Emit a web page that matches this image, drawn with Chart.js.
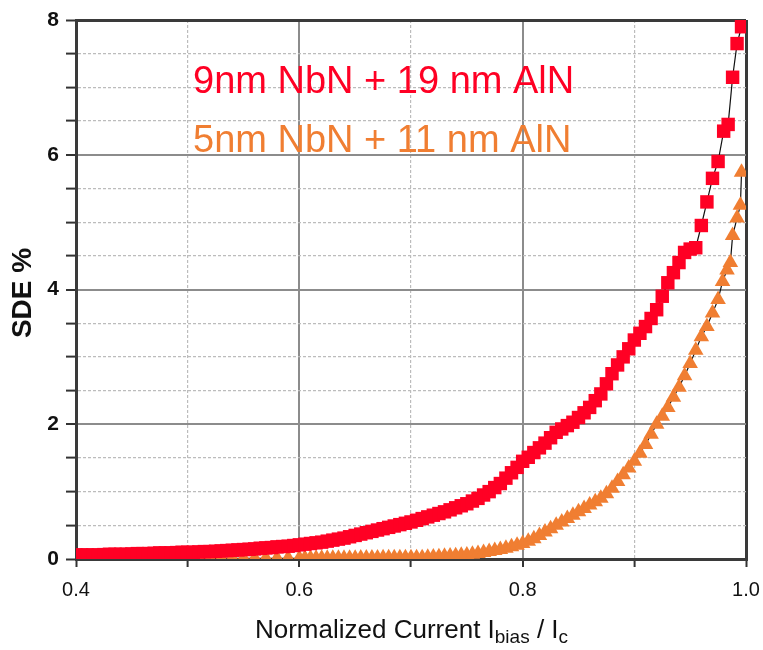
<!DOCTYPE html>
<html>
<head>
<meta charset="utf-8">
<script src="https://cdn.jsdelivr.net/npm/chart.js@4.4.1/dist/chart.umd.min.js"></script>
<style>
  html, body { margin: 0; padding: 0; background: #ffffff; }
  #wrap { position: relative; width: 763px; height: 650px; }
</style>
</head>
<body>
<div id="wrap"><canvas id="c" width="763" height="650"></canvas></div>
<script>
// ---- data ----
const xRed = [0.400,0.405,0.410,0.415,0.420,0.425,0.430,0.435,0.440,0.445,0.450,0.455,0.460,0.465,0.470,0.475,0.480,0.485,0.490,0.495,
  0.500,0.505,0.510,0.515,0.520,0.525,0.530,0.535,0.540,0.545,0.550,0.555,0.560,0.565,0.570,0.575,0.580,0.585,0.590,0.595,
  0.600,0.605,0.610,0.615,0.620,0.625,0.630,0.635,0.640,0.645,0.650,0.655,0.660,0.665,0.670,0.675,0.680,0.685,0.690,0.695,
  0.700,0.705,0.710,0.715,0.720,0.725,0.730,0.735,0.740,0.745,0.750,0.755,0.760,0.765,0.770,0.775,0.780,0.785,0.790,0.795,
  0.800,0.805,0.810,0.815,0.820,0.825,0.830,0.835,0.840,0.845,0.850,0.855,0.860,0.865,0.870,0.875,0.880,0.885,0.890,0.895,
  0.900,0.905,0.910,0.915,0.920,0.925,0.930,0.935,0.940,0.945,0.950,0.955,0.960,0.965,0.970,0.975,0.980,0.984,0.988,0.992,0.996];
const yRed = [0.06,0.06,0.06,0.06,0.06,0.065,0.07,0.07,0.07,0.07,0.075,0.08,0.08,0.08,0.085,0.09,0.09,0.09,0.095,0.10,
  0.10,0.10,0.105,0.11,0.11,0.115,0.12,0.125,0.13,0.135,0.14,0.145,0.15,0.16,0.165,0.17,0.18,0.185,0.19,0.20,
  0.21,0.22,0.23,0.24,0.25,0.265,0.28,0.295,0.31,0.33,0.35,0.37,0.39,0.41,0.43,0.45,0.47,0.49,0.51,0.53,
  0.55,0.575,0.60,0.625,0.65,0.675,0.70,0.73,0.76,0.79,0.82,0.86,0.90,0.95,1.00,1.06,1.12,1.20,1.28,1.36,
  1.45,1.51,1.58,1.65,1.72,1.80,1.88,1.93,1.98,2.03,2.10,2.17,2.25,2.35,2.45,2.60,2.75,2.88,3.00,3.12,
  3.25,3.35,3.45,3.57,3.70,3.90,4.10,4.25,4.40,4.55,4.60,4.62,4.95,5.30,5.65,5.90,6.35,6.45,7.15,7.65,7.90];
const xOrange = [0.400,0.410,0.420,0.430,0.440,0.450,0.460,0.470,0.480,0.490,0.500,0.510,0.520,0.530,0.540,0.550,0.560,0.570,0.580,0.590,
  0.600,0.605,0.610,0.615,0.620,0.625,0.630,0.635,0.640,0.645,0.650,0.655,0.660,0.665,0.670,0.675,0.680,0.685,0.690,0.695,
  0.700,0.705,0.710,0.715,0.720,0.725,0.730,0.735,0.740,0.745,0.750,0.755,0.760,0.765,0.770,0.775,0.780,0.785,0.790,0.795,
  0.800,0.805,0.810,0.815,0.820,0.825,0.830,0.835,0.840,0.845,0.850,0.855,0.860,0.865,0.870,0.875,0.880,0.885,0.890,0.895,
  0.900,0.905,0.910,0.915,0.920,0.925,0.930,0.935,0.940,0.945,0.950,0.955,0.960,0.965,0.970,0.975,0.979,0.983,0.986,0.988,
  0.992,0.995,0.996];
const yOrange = [0.01,0.01,0.01,0.01,0.01,0.01,0.01,0.01,0.01,0.01,0.01,0.01,0.01,0.01,0.01,0.01,0.01,0.01,0.01,0.01,
  0.01,0.01,0.01,0.01,0.01,0.01,0.01,0.01,0.01,0.012,0.012,0.014,0.014,0.015,0.016,0.017,0.018,0.019,0.02,0.02,
  0.02,0.02,0.02,0.025,0.03,0.035,0.04,0.045,0.05,0.055,0.06,0.07,0.08,0.095,0.11,0.125,0.14,0.16,0.18,0.205,
  0.23,0.265,0.30,0.35,0.40,0.45,0.50,0.55,0.60,0.65,0.70,0.75,0.80,0.85,0.90,0.97,1.05,1.15,1.25,1.35,
  1.45,1.57,1.70,1.85,2.00,2.12,2.25,2.40,2.55,2.72,2.90,3.10,3.30,3.45,3.65,3.85,4.12,4.29,4.40,4.80,
  5.06,5.25,5.74];
const seriesNames = ['9nm NbN + 19 nm AlN', '5nm NbN + 11 nm AlN'];
const xTickLabels = ['0.4', '0.6', '0.8', '1.0'];
const yTickLabels = ['0', '2', '4', '6', '8'];
const yTitle = 'SDE %';

// ---- styles ----
const RED = '#ff0024';
const ORANGE = '#f07e32';
const FONT = "'Liberation Sans', Arial, Helvetica, sans-serif";
const near = (a, b) => Math.abs(a - b) < 1e-6;

const toPts = (xs, ys) => xs.map((x, i) => ({ x: x, y: ys[i] }));

const textPlugin = {
  id: 'texts',
  afterDraw(chart) {
    const ctx = chart.ctx;
    ctx.save();
    ctx.textBaseline = 'alphabetic';
    ctx.textAlign = 'left';
    ctx.font = '38px ' + FONT;
    ctx.fillStyle = RED;
    ctx.fillText(seriesNames[0], 193, 93);
    ctx.fillStyle = ORANGE;
    ctx.fillText(seriesNames[1], 193, 152);

    // x axis title with subscripts
    const parts = [
      { t: 'Normalized Current I', f: '26px ' + FONT, dy: 0 },
      { t: 'bias', f: '19px ' + FONT, dy: 5 },
      { t: ' / I', f: '26px ' + FONT, dy: 0 },
      { t: 'c', f: '19px ' + FONT, dy: 5 }
    ];
    let total = 0;
    parts.forEach(p => { ctx.font = p.f; p.w = ctx.measureText(p.t).width; total += p.w; });
    let x = 411.5 - total / 2;
    ctx.fillStyle = '#111111';
    parts.forEach(p => { ctx.font = p.f; ctx.fillText(p.t, x, 638 + p.dy); x += p.w; });

    // y axis title
    ctx.save();
    ctx.translate(23, 293);
    ctx.rotate(-Math.PI / 2);
    ctx.textAlign = 'center';
    ctx.textBaseline = 'middle';
    ctx.font = 'bold 28px ' + FONT;
    ctx.fillText(yTitle, 0, 0);
    ctx.restore();
    ctx.restore();
  }
};

new Chart(document.getElementById('c'), {
  type: 'line',
  data: {
    datasets: [
      {
        label: seriesNames[0],
        data: toPts(xRed, yRed),
        borderColor: '#111111',
        borderWidth: 1.2,
        pointStyle: 'rect',
        pointRadius: 9.5,
        pointHoverRadius: 9.5,
        pointBackgroundColor: RED,
        pointBorderColor: RED,
        pointBorderWidth: 0,
        tension: 0,
        clip: 0
      },
      {
        label: seriesNames[1],
        data: toPts(xOrange, yOrange),
        borderColor: '#111111',
        borderWidth: 1.2,
        pointStyle: 'triangle',
        pointRadius: 9,
        pointHoverRadius: 9,
        pointBackgroundColor: ORANGE,
        pointBorderColor: ORANGE,
        pointBorderWidth: 0,
        tension: 0,
        clip: 0
      }
    ]
  },
  options: {
    responsive: false,
    animation: false,
    layout: { padding: { top: 20, right: 17, left: 0, bottom: 0 } },
    plugins: { legend: { display: false }, tooltip: { enabled: false } },
    scales: {
      x: {
        type: 'linear',
        min: 0.4,
        max: 1.0,
        afterFit(s) { s.height = 91; s.paddingLeft = 0; s.paddingRight = 0; },
        ticks: {
          stepSize: 0.1,
          autoSkip: false,
          maxRotation: 0,
          padding: 11,
          color: '#111111',
          font: { family: FONT, size: 20 },
          callback(v) {
            const s = Number(v).toFixed(1);
            return xTickLabels.includes(s) ? s : '';
          }
        },
        grid: {
          drawTicks: true,
          tickLength: 8,
          tickColor: '#333333',
          tickWidth: 2,
          color(c) {
            const v = c.tick ? c.tick.value : 0;
            if (near(v, 0.4) || near(v, 1.0)) return '#3a3a3a';
            if (near(v, 0.6) || near(v, 0.8)) return '#8c8c8c';
            return '#bcbcbc';
          },
          lineWidth(c) {
            const v = c.tick ? c.tick.value : 0;
            if (near(v, 0.4) || near(v, 1.0)) return 3;
            if (near(v, 0.6) || near(v, 0.8)) return 2;
            return 1.2;
          }
        },
        border: {
          display: true,
          color: '#3a3a3a',
          width: 3,
          dash(c) {
            const v = c.tick ? c.tick.value : 0.6;
            if (near(v, 0.4) || near(v, 0.6) || near(v, 0.8) || near(v, 1.0)) return [];
            return [3, 2];
          }
        },
        title: { display: false }
      },
      y: {
        min: 0,
        max: 8,
        afterFit(s) { s.width = 76; s.paddingTop = 0; s.paddingBottom = 0; },
        ticks: {
          stepSize: 0.5,
          autoSkip: false,
          padding: 7,
          color: '#111111',
          font: { family: FONT, size: 21, weight: 'bold' },
          callback(v) {
            const s = String(Math.round(v * 10) / 10);
            return yTickLabels.includes(s) ? s : '';
          }
        },
        grid: {
          drawTicks: true,
          tickLength: 10,
          tickColor: '#333333',
          tickWidth: 2,
          color(c) {
            const v = c.tick ? c.tick.value : 0;
            if (near(v, 8) || near(v, 0)) return '#3a3a3a';
            if (near(v % 2, 0)) return '#8c8c8c';
            return '#bcbcbc';
          },
          lineWidth(c) {
            const v = c.tick ? c.tick.value : 0;
            if (near(v, 8) || near(v, 0)) return 3;
            if (near(v % 2, 0)) return 2;
            return 1.2;
          }
        },
        border: {
          display: true,
          color: '#3a3a3a',
          width: 3,
          dash(c) {
            const v = c.tick ? c.tick.value : 0;
            if (near(v % 2, 0)) return [];
            return [3, 2];
          }
        },
        title: { display: false }
      }
    }
  },
  plugins: [textPlugin]
});
</script>
</body>
</html>
